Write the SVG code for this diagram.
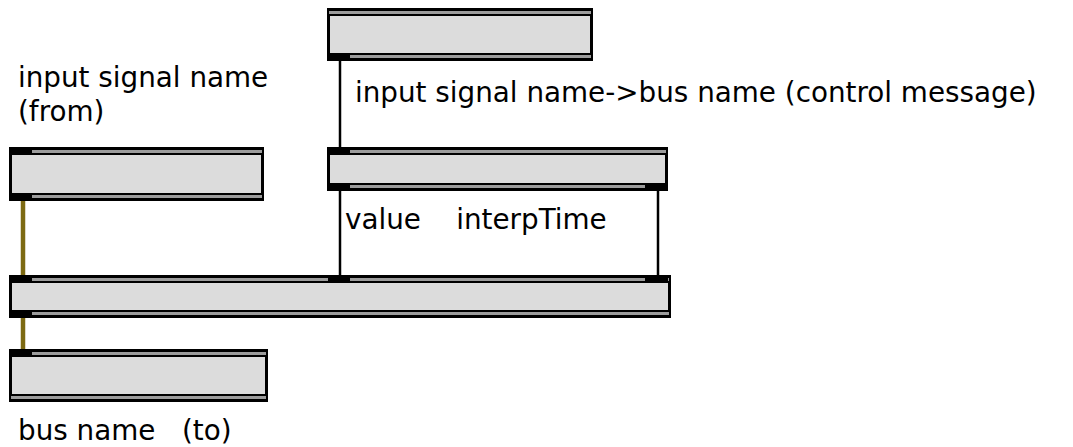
<svg xmlns="http://www.w3.org/2000/svg" width="1073" height="447" viewBox="0 0 1073 447">
<style>
.frame{fill:#000}
.band{fill:#9c9c9c}
.body{fill:#dcdcdc}
.port{fill:#000}
.wire{stroke:#000;stroke-width:2.5;fill:none}
.sig{stroke:#7d6a12;stroke-width:4.5;fill:none}
.lbl{font-family:"DejaVu Sans",Verdana,sans-serif;font-size:27.8px;fill:#000;white-space:pre}
</style>
<rect width="1073" height="447" fill="#fff"/>
<g id="connectors">
<line class="wire" x1="340" y1="61" x2="340" y2="147"/>
<line class="wire" x1="340" y1="191" x2="340" y2="275"/>
<line class="wire" x1="658" y1="191" x2="658" y2="275"/>
<line class="sig" x1="23" y1="201" x2="23" y2="275"/>
<line class="sig" x1="23" y1="318" x2="23" y2="349"/>
</g>
<g id="node-from">
<rect class="frame" x="9" y="147" width="255" height="54"/>
<rect class="band" x="11" y="150" width="251" height="3"/>
<rect class="body" x="12" y="155" width="249" height="38"/>
<rect class="band" x="11" y="195" width="251" height="3"/>
<rect class="port" x="9" y="149" width="23" height="4"/>
<rect class="port" x="9" y="195" width="23" height="4"/>
</g>
<g id="node-control">
<rect class="frame" x="327" y="8" width="266" height="53"/>
<rect class="band" x="329" y="11" width="262" height="3"/>
<rect class="body" x="330" y="16" width="260" height="37"/>
<rect class="band" x="329" y="55" width="262" height="3"/>
<rect class="port" x="327" y="55" width="23" height="4"/>
</g>
<g id="node-line">
<rect class="frame" x="327" y="147" width="341" height="44"/>
<rect class="band" x="329" y="150" width="337" height="3"/>
<rect class="body" x="330" y="155" width="335" height="28"/>
<rect class="band" x="329" y="185" width="337" height="3"/>
<rect class="port" x="327" y="149" width="23" height="4"/>
<rect class="port" x="327" y="185" width="23" height="4"/>
<rect class="port" x="645" y="185" width="23" height="4"/>
</g>
<g id="node-send">
<rect class="frame" x="9" y="275" width="662" height="43"/>
<rect class="band" x="11" y="278" width="658" height="3"/>
<rect class="body" x="12" y="283" width="656" height="27"/>
<rect class="band" x="11" y="312" width="658" height="3"/>
<rect class="port" x="9" y="277" width="23" height="4"/>
<rect class="port" x="328" y="277" width="22" height="4"/>
<rect class="port" x="645" y="277" width="23" height="4"/>
<rect class="port" x="9" y="312" width="23" height="4"/>
</g>
<g id="node-to">
<rect class="frame" x="9" y="349" width="259" height="53"/>
<rect class="band" x="11" y="352" width="255" height="3"/>
<rect class="body" x="12" y="357" width="253" height="37"/>
<rect class="band" x="11" y="396" width="255" height="3"/>
<rect class="port" x="9" y="351" width="23" height="4"/>
</g>
<g id="labels">
<text class="lbl" x="18" y="87">input signal name</text>
<text class="lbl" x="18" y="121">(from)</text>
<text class="lbl" x="355" y="102">input signal name-&gt;bus name (control message)</text>
<text class="lbl" x="345" y="229">value    interpTime</text>
<text class="lbl" x="18" y="440">bus name   (to)</text>
</g>
</svg>
